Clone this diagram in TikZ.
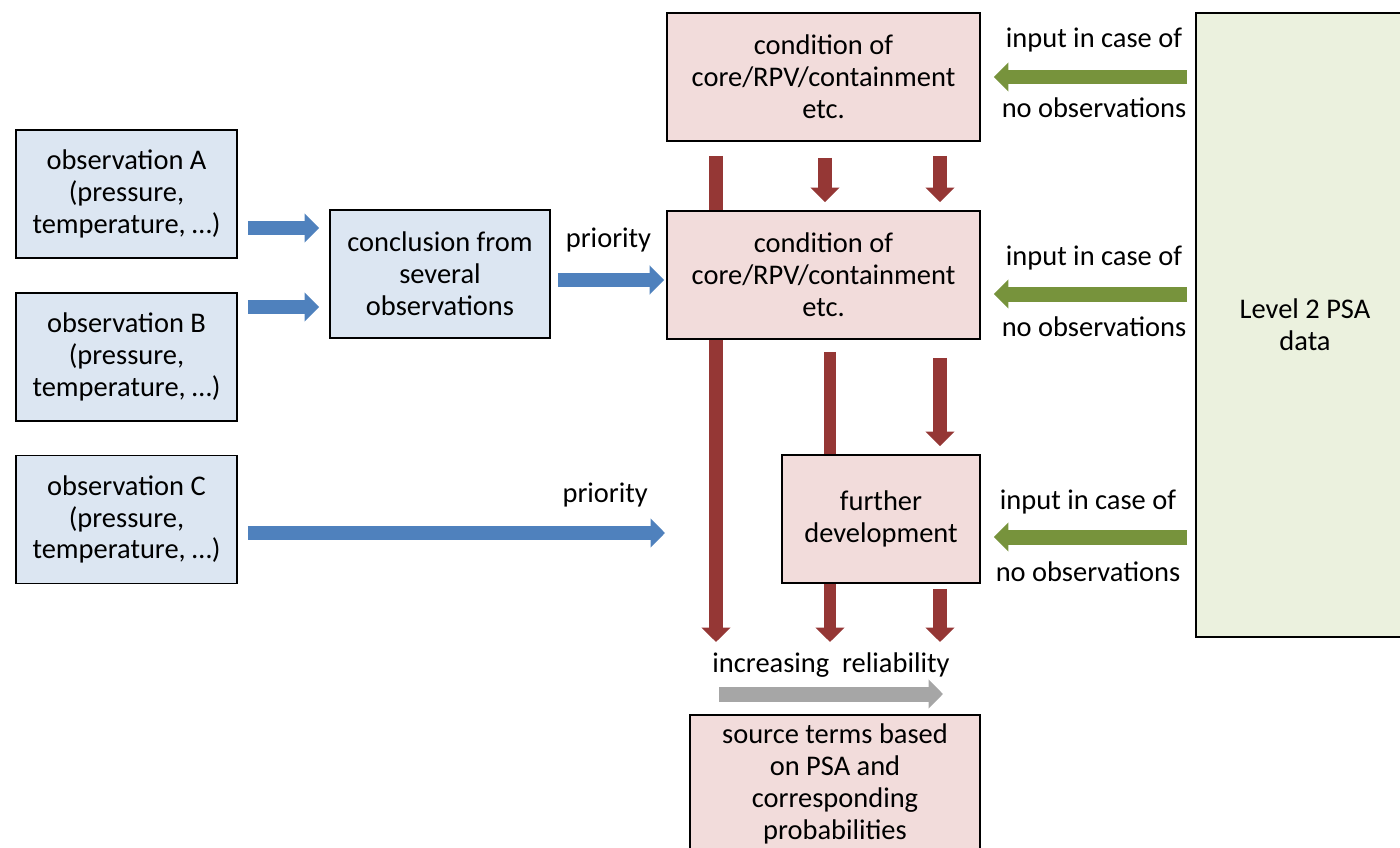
\documentclass[tikz,border=0pt]{standalone}
\usepackage{fontspec}
\setmainfont{Carlito}
\usetikzlibrary{arrows.meta, backgrounds}
\definecolor{obsfill}{HTML}{DCE6F2}
\definecolor{condfill}{HTML}{F2DCDB}
\definecolor{datafill}{HTML}{EBF1DE}
\definecolor{bluearrow}{HTML}{4F81BD}
\definecolor{redarrow}{HTML}{953735}
\definecolor{greenarrow}{HTML}{77933C}
\definecolor{grayarrow}{HTML}{A6A6A6}

\begin{document}
\begin{tikzpicture}[x=0.02cm, y=-0.02cm,
        font=\fontsize{16.2}{18.1}\selectfont,
        box/.style={draw, line width=1.1pt, align=center, inner sep=2pt},
        obsbox/.style={box, fill=obsfill, minimum width=4.42cm, minimum height=2.56cm},
        condbox/.style={box, fill=condfill, minimum width=6.26cm, minimum height=2.56cm},
        fat/.style={line width=0.28cm, -{Triangle[width=0.57cm,length=0.29cm]}},
        bluearr/.style={fat, draw=bluearrow},
        redarr/.style={fat, draw=redarrow},
        greenarr/.style={fat, line width=0.3cm, draw=greenarrow},
        grayarr/.style={fat, line width=0.3cm, draw=grayarrow}]
    \path[use as bounding box] (0,0) rectangle (1400,848);
    \clip (0,0) rectangle (1400,848);

    \node[obsbox] (obsA) at (126.5,194) {observation A\\(pressure,\\temperature, …)};
    \node[obsbox] (obsB) at (126.5,357) {observation B\\(pressure,\\temperature, …)};
    \node[obsbox] (obsC) at (126.5,519.5) {observation C\\(pressure,\\temperature, …)};
    \node[box, fill=obsfill, minimum width=4.4cm, minimum height=2.56cm] (concl) at (440,274) {conclusion from\\several\\observations};
    \node[condbox] (cond1) at (823.5,77) {condition of\\core/RPV/containment\\etc.};
    \node[condbox] (cond2) at (823.5,275) {condition of\\core/RPV/containment\\etc.};
    \node[box, fill=condfill, minimum width=3.96cm, minimum height=2.56cm] (further) at (881,519) {further\\development};
    \node[box, fill=condfill, minimum width=5.8cm, minimum height=2.76cm, anchor=north] (source) at (835,714) {source terms based\\on PSA and\\corresponding\\probabilities};
    \node[box, fill=datafill, minimum width=4.36cm, minimum height=12.48cm] (lvl) at (1305,325) {Level 2 PSA\\data};

    \coordinate (pA) at (247,228);
    \coordinate (pB) at (247,307);
    \coordinate (pP) at (557,280);
    \coordinate (pC) at (665,533);
    \coordinate (e1) at (716,642);
    \coordinate (e2) at (830,642);
    \coordinate (e3) at (940,642);
    \coordinate (g1) at (719,694);
    \coordinate (g2) at (943,694);
    \coordinate (m2) at (825,0);

    \draw[bluearr, shorten <=0.2cm, shorten >=0.2cm] (obsA.east |- pA) -- (concl.west |- pA);
    \draw[bluearr, shorten <=0.2cm, shorten >=0.2cm] (obsB.east |- pB) -- (concl.west |- pB);
    \draw[bluearr, shorten <=0.14cm, shorten >=0.04cm] (concl.east |- pP) -- (cond2.west |- pP)
        node[midway, yshift=0.8cm, black]{priority};
    \draw[bluearr, shorten <=0.2cm] (obsC.east |- pC) -- (pC)
        node[pos=0.86, yshift=0.76cm, black]{priority};

    \begin{scope}[on background layer]
        \draw[redarr, shorten <=0.28cm] (cond1.south -| e1) -- (e1);
        \draw[redarr, line width=0.24cm, shorten <=0.24cm] (cond2.south -| e2) -- (e2);
    \end{scope}
    \draw[redarr, shorten <=0.32cm, shorten >=0.16cm] (cond1.south -| m2) -- (cond2.north -| m2);
    \draw[redarr, shorten <=0.28cm, shorten >=0.16cm] (cond1.south -| e3) -- (cond2.north -| e3);
    \draw[redarr, shorten <=0.36cm, shorten >=0.16cm] (cond2.south -| e3) -- (further.north -| e3);
    \draw[redarr, shorten <=0.1cm] (further.south -| e3) -- (e3);

    \draw[greenarr, shorten <=0.16cm, shorten >=0.26cm] (lvl.west |- cond1) -- (cond1.east)
        node[midway, xshift=0.12cm, yshift=0.74cm, black]{input in case of}
        node[midway, xshift=0.12cm, yshift=-0.62cm, black]{no observations};
    \coordinate (q2) at (0,294);
    \draw[greenarr, shorten <=0.16cm, shorten >=0.26cm] (lvl.west |- q2) -- (cond2.east |- q2)
        node[midway, xshift=0.12cm, yshift=0.72cm, black]{input in case of}
        node[midway, xshift=0.12cm, yshift=-0.66cm, black]{no observations};
    \coordinate (q3) at (0,537);
    \draw[greenarr, shorten <=0.16cm, shorten >=0.26cm] (lvl.west |- q3) -- (further.east |- q3)
        node[midway, yshift=0.7cm, black]{input in case of}
        node[midway, yshift=-0.7cm, black]{no observations};

    \draw[grayarr] (g1) -- (g2)
        node[midway, yshift=0.58cm, black]{increasing\ \ reliability};
\end{tikzpicture}
\end{document}
